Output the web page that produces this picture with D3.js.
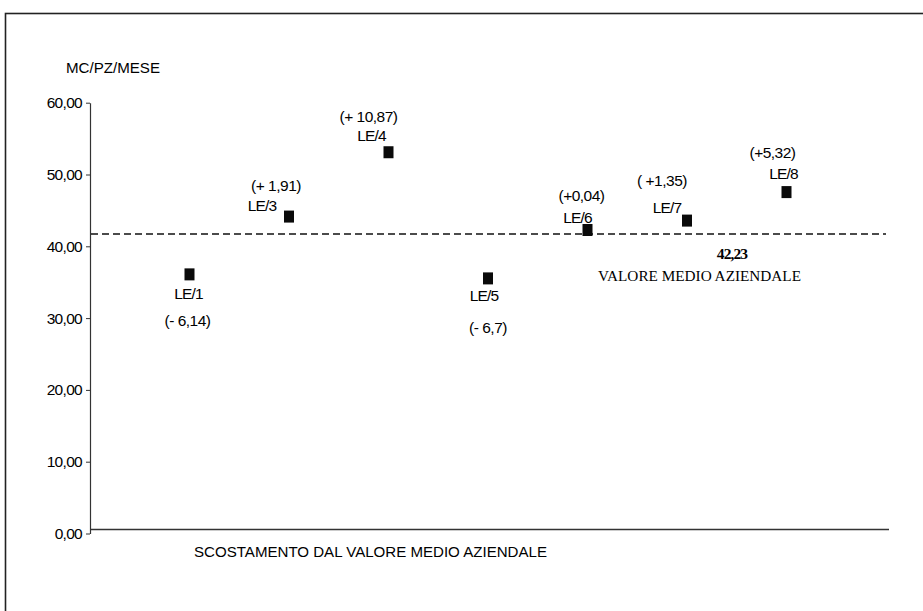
<!DOCTYPE html>
<html>
<head>
<meta charset="utf-8">
<script src="https://cdn.jsdelivr.net/npm/d3@7"></script>
<style>
  html, body { margin: 0; padding: 0; background: #fff; }
  svg { display: block; }
  text { font-family: "Liberation Sans", Arial, Helvetica, sans-serif; fill: #000; }
</style>
</head>
<body>
<svg id="chart" width="923" height="611"></svg>
<script>
// ---- data ----
const categories = ["LE/1", "LE/3", "LE/4", "LE/5", "LE/6", "LE/7", "LE/8"];
const values     = [36.09, 44.14, 53.10, 35.53, 42.27, 43.58, 47.55];
const deviations = ["(- 6,14)", "(+ 1,91)", "(+ 10,87)", "(- 6,7)", "(+0,04)", "( +1,35)", "(+5,32)"];
const yTicks     = [0, 10, 20, 30, 40, 50, 60];
const meanLineValue = 41.7;          // where the dashed line is drawn
const meanLabel     = "42,23";
const meanCaption   = "VALORE MEDIO AZIENDALE";
const yTitle        = "MC/PZ/MESE";
const xTitle        = "SCOSTAMENTO DAL VALORE MEDIO AZIENDALE";

// ---- layout of the per-point labels (offsets from the marker, px) ----
const labelLayout = [
  { name: [-1, 19],  dev: [-2, 46] },
  { name: [-27, -11], dev: [-13, -31] },
  { name: [-17, -17], dev: [-20, -36] },
  { name: [-4, 17],  dev: [0, 49] },
  { name: [-10, -13], dev: [-6, -35] },
  { name: [-20, -13], dev: [-25, -40] },
  { name: [-3, -19], dev: [-14, -40] }
];

const svg = d3.select("#chart");

// frame
svg.append("rect")
  .attr("x", 5.5).attr("y", 13.5)
  .attr("width", 940).attr("height", 640)
  .attr("fill", "none").attr("stroke", "#222").attr("stroke-width", 1.6);

const x = d3.scalePoint().domain(categories).range([90, 886]).padding(1);
const y = d3.scaleLinear().domain([0, 60]).range([533.5, 102.7]);

const fmt = d => d.toFixed(2).replace(".", ",");

// y axis
const yAxis = svg.append("g")
  .attr("transform", "translate(90,0)")
  .call(d3.axisLeft(y).tickValues(yTicks).tickFormat(fmt).tickSize(4).tickSizeOuter(0).tickPadding(4));
yAxis.select(".domain").attr("stroke", "#333").attr("stroke-width", 1.2);
yAxis.selectAll(".tick line").attr("stroke", "#333");
yAxis.selectAll(".tick text")
  .attr("font-size", 15.5).attr("letter-spacing", -0.7)
  .style("font-family", "'Liberation Sans', Arial, sans-serif").attr("fill", "#000");

// x axis line (baseline)
svg.append("line")
  .attr("x1", 90).attr("x2", 889)
  .attr("y1", y(0) - 4).attr("y2", y(0) - 4)
  .attr("stroke", "#333").attr("stroke-width", 1.3);

// titles
svg.append("text")
  .attr("x", 66).attr("y", 68).attr("dominant-baseline", "central")
  .attr("font-size", 14.5).attr("textLength", 94).attr("lengthAdjust", "spacingAndGlyphs")
  .text(yTitle);

svg.append("text")
  .attr("x", 194).attr("y", 552).attr("dominant-baseline", "central")
  .attr("font-size", 14).attr("textLength", 353).attr("lengthAdjust", "spacingAndGlyphs")
  .text(xTitle);

// mean dashed line
svg.append("line")
  .attr("x1", 91).attr("x2", 886)
  .attr("y1", y(meanLineValue)).attr("y2", y(meanLineValue))
  .attr("stroke", "#111").attr("stroke-width", 1.5)
  .attr("stroke-dasharray", "7,4");

svg.append("text")
  .attr("x", 732).attr("y", y(meanLineValue) + 19.5)
  .attr("text-anchor", "middle").attr("dominant-baseline", "central")
  .attr("font-size", 15.5).attr("font-weight", "bold")
  .style("font-family", "'Liberation Serif', 'Times New Roman', serif")
  .attr("letter-spacing", -0.9)
  .text(meanLabel);

svg.append("text")
  .attr("x", 598).attr("y", y(meanLineValue) + 41.5)
  .attr("dominant-baseline", "central")
  .attr("font-size", 15.5)
  .style("font-family", "'Liberation Serif', 'Times New Roman', serif")
  .attr("textLength", 203).attr("lengthAdjust", "spacingAndGlyphs")
  .text(meanCaption);

// points
const pts = categories.map((c, i) => ({ c, v: values[i], dev: deviations[i], lay: labelLayout[i] }));

svg.selectAll("rect.pt").data(pts).join("rect")
  .attr("class", "pt")
  .attr("x", d => x(d.c) - 5).attr("y", d => y(d.v) - 6)
  .attr("width", 10).attr("height", 12)
  .attr("fill", "#0a0a0a");

svg.selectAll("text.name").data(pts).join("text")
  .attr("class", "name")
  .attr("x", d => x(d.c) + d.lay.name[0]).attr("y", d => y(d.v) + d.lay.name[1])
  .attr("text-anchor", "middle").attr("dominant-baseline", "central")
  .attr("font-size", 15.5).attr("letter-spacing", -0.9)
  .text(d => d.c);

svg.selectAll("text.dev").data(pts).join("text")
  .attr("class", "dev")
  .attr("x", d => x(d.c) + d.lay.dev[0]).attr("y", d => y(d.v) + d.lay.dev[1])
  .attr("text-anchor", "middle").attr("dominant-baseline", "central")
  .attr("font-size", 15.5).attr("letter-spacing", -0.5)
  .text(d => d.dev);
</script>
</body>
</html>
